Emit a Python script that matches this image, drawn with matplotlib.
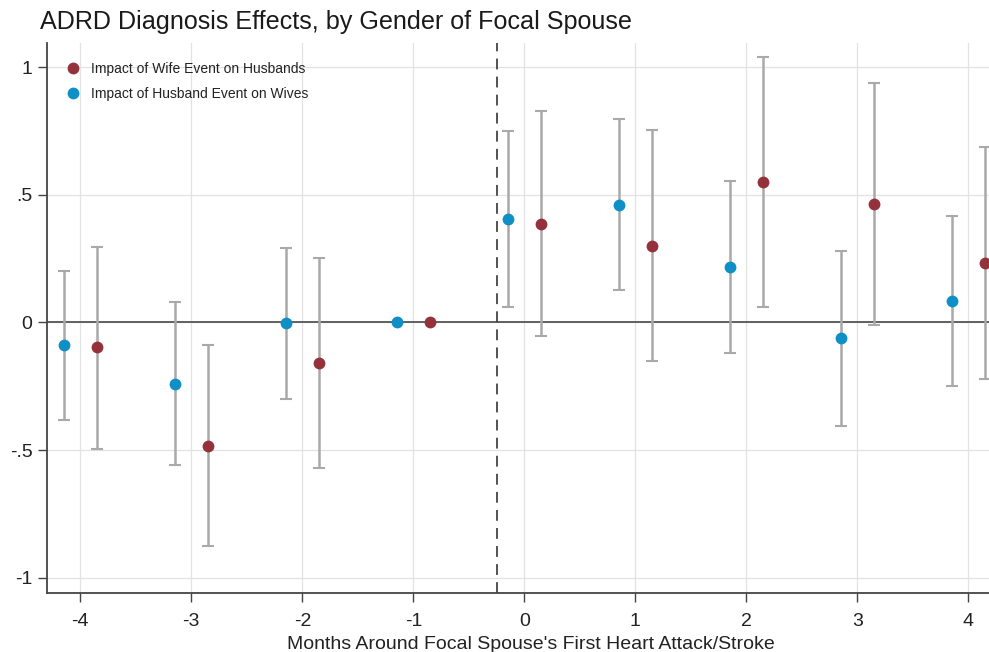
import numpy as np
import matplotlib
matplotlib.use("Agg")
import matplotlib.pyplot as plt

# Event-time periods (months around the focal spouse's event)
months = [-4, -3, -2, -1, 0, 1, 2, 3, 4]

# Impact of wife event on husbands (point estimate and 95% CI)
wife_est = [-0.097, -0.482, -0.159, 0.0, 0.386, 0.300, 0.550, 0.464, 0.233]
wife_lo = [-0.496, -0.875, -0.569, np.nan, -0.053, -0.152, 0.061, -0.008, -0.222]
wife_hi = [0.297, -0.088, 0.252, np.nan, 0.827, 0.752, 1.040, 0.938, 0.688]

# Impact of husband event on wives (point estimate and 95% CI)
husb_est = [-0.088, -0.241, -0.003, 0.0, 0.406, 0.461, 0.216, -0.061, 0.086]
husb_lo = [-0.380, -0.559, -0.300, np.nan, 0.062, 0.127, -0.121, -0.405, -0.248]
husb_hi = [0.203, 0.079, 0.293, np.nan, 0.748, 0.797, 0.554, 0.281, 0.417]

ytick_vals = [-1, -0.5, 0, 0.5, 1]
ytick_labels = ["-1", "-.5", "0", ".5", "1"]

RED = "#94313A"
BLUE = "#0E8FC6"
CI_GRAY = "#A9A9A9"

plt.rcParams["font.family"] = ["Liberation Sans", "DejaVu Sans"]

fig = plt.figure(figsize=(9.89, 6.52), dpi=100)
# plot region runs slightly past the right edge of the canvas
ax_left, ax_right = 47, 1015
ax = fig.add_axes([ax_left / 989, 1 - 593 / 652,
                   (ax_right - ax_left) / 989, (593 - 43) / 652])

offset = 0.15
x = np.array(months, dtype=float)


def draw_series(xpos, est, lo, hi, color, label):
    est = np.array(est)
    lo = np.array(lo)
    hi = np.array(hi)
    has_ci = ~np.isnan(lo)
    ax.errorbar(xpos[has_ci], est[has_ci],
                yerr=[est[has_ci] - lo[has_ci], hi[has_ci] - est[has_ci]],
                fmt="none", ecolor=CI_GRAY, elinewidth=1.8, capsize=4,
                capthick=1.5, zorder=3)
    ax.plot(xpos, est, "o", color=color, markersize=8.5,
            markeredgewidth=0, zorder=4, label=label)


draw_series(x + offset, wife_est, wife_lo, wife_hi, RED,
            "Impact of Wife Event on Husbands")
draw_series(x - offset, husb_est, husb_lo, husb_hi, BLUE,
            "Impact of Husband Event on Wives")

ax.axhline(0, color="#555555", linewidth=1.3, zorder=2)
ax.axvline(-0.25, color="#444444", linewidth=1.3, linestyle=(0, (6, 4)), zorder=2)

ax.set_xlim(-4.3, 4.42)
ax.set_ylim(-1.059, 1.094)
ax.set_xticks(months)
ax.set_xticklabels([str(m) for m in months])
ax.set_yticks(ytick_vals)
ax.set_yticklabels(ytick_labels)

ax.grid(True, color="#E2E2E2", linewidth=0.9, zorder=0)
ax.set_axisbelow(True)

for side in ("top", "right"):
    ax.spines[side].set_visible(False)
for side in ("left", "bottom"):
    ax.spines[side].set_color("#444444")
    ax.spines[side].set_linewidth(1.3)

ax.tick_params(axis="both", direction="out", length=6.5, width=1.0,
               color="#444444", labelsize=14, labelcolor="#222222")
ax.tick_params(axis="x", pad=8)
ax.tick_params(axis="y", pad=4)

ax.set_xlabel("Months Around Focal Spouse's First Heart Attack/Stroke",
              fontsize=14, color="#222222", labelpad=4)

fig.text(40 / 989, 1 - 22 / 652, "ADRD Diagnosis Effects, by Gender of Focal Spouse",
         fontsize=18.1, color="#1A1A1A", ha="left", va="center")

leg = ax.legend(loc="upper left", frameon=False, fontsize=10,
                handletextpad=0.3, labelspacing=0.75,
                bbox_to_anchor=(0.0, 0.988), borderaxespad=0.5)
for t in leg.get_texts():
    t.set_color("#222222")

fig.savefig("out.png", dpi=100)
